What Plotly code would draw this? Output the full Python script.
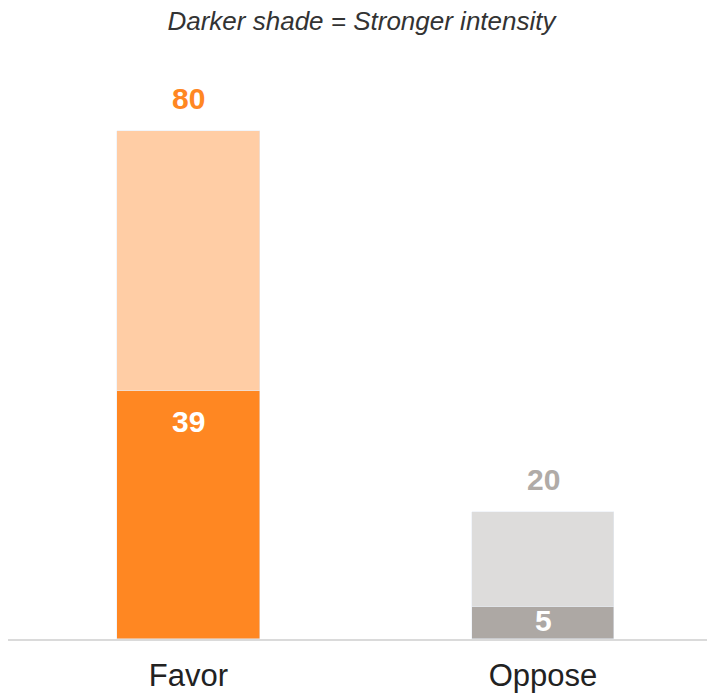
import plotly.graph_objects as go

categories = ["Favor", "Oppose"]
strong = [39, 5]
total = [80, 20]
rest = [t - s for t, s in zip(total, strong)]

dark_colors = ["#FF8722", "#ADA8A4"]
light_colors = ["#FFCDA5", "#DDDCDB"]
label_colors = ["#FF8722", "#B0ABA7"]

FONT = "Liberation Sans, Arial, sans-serif"

fig = go.Figure()
fig.add_trace(go.Bar(x=categories, y=strong, marker_color=dark_colors, width=0.403,
                     hoverinfo="skip", showlegend=False))
fig.add_trace(go.Bar(x=categories, y=rest, marker_color=light_colors, width=0.403,
                     hoverinfo="skip", showlegend=False))

for c, s, t, lc in zip(categories, strong, total, label_colors):
    fig.add_annotation(x=c, y=t, text=f"<b>{t}</b>", showarrow=False,
                       yanchor="bottom", yshift=14,
                       font=dict(family=FONT, size=30, color=lc))
    fig.add_annotation(x=c, y=s, text=f"<b>{s}</b>", showarrow=False,
                       yanchor="top", yshift=-12 if s > 10 else 5,
                       font=dict(family=FONT, size=30, color="white"))

fig.update_layout(
    barmode="stack",
    width=707, height=686,
    margin=dict(l=0, r=0, t=52, b=55),
    paper_bgcolor="white", plot_bgcolor="white",
    bargap=0,
    title=dict(text="<i>Darker shade = Stronger intensity</i>", x=0.5, xanchor="center",
               y=1 - 13 / 686, yanchor="middle",
               font=dict(family=FONT, size=26, color="#333333")),
    xaxis=dict(range=[-0.509, 1.485], showline=True, linecolor="#DADADA", linewidth=2,
               ticks="", ticklabelstandoff=8,
               tickfont=dict(family=FONT, size=31, color="#222222"),
               showgrid=False, zeroline=False),
    yaxis=dict(range=[0, 91.2], visible=False, showgrid=False, zeroline=False),
)

fig.write_html("out.html")
